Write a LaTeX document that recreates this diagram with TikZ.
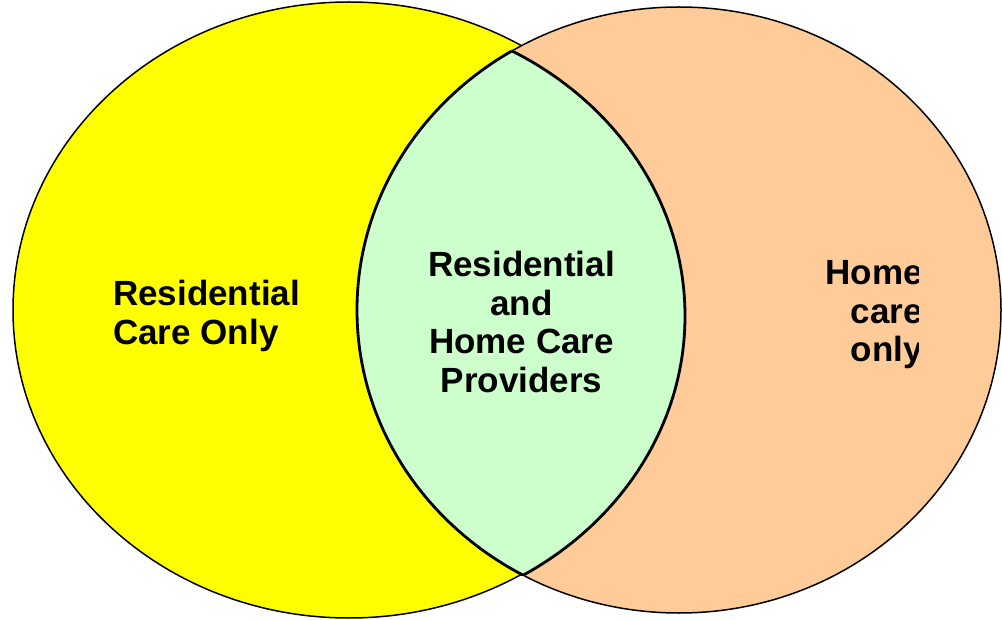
\documentclass[tikz,border=0pt]{standalone}
\usepackage{fontspec}
\setmainfont{Liberation Sans}
\definecolor{venyellow}{HTML}{FFFF00}
\definecolor{venorange}{HTML}{FFCC99}
\definecolor{vengreen}{HTML}{CCFFCC}
\tikzset{
  circ/.style={draw=black, line width=1.5pt},
  lbl/.style={font=\fontsize{35}{38.5}\selectfont\bfseries, inner sep=0pt, text=black}
}
\begin{document}
\begin{tikzpicture}[x=1pt,y=-1pt]
\useasboundingbox (0,0) rectangle (1002,620);
% left circle
\draw[circ, fill=venyellow] (349,310) ellipse [x radius=336, y radius=308];
% right circle
\draw[circ, fill=venorange] (679,310) ellipse [x radius=322, y radius=303];
% lens
\begin{scope}
  \clip (679,310) ellipse [x radius=322, y radius=303];
  \fill[vengreen] (349,316) ellipse [x radius=336, y radius=303];
  \draw[black, line width=2.8pt] (349,316) ellipse [x radius=336, y radius=303];
\end{scope}
\begin{scope}
  \clip (349,316) ellipse [x radius=336, y radius=303];
  \draw[black, line width=2.8pt] (679,310) ellipse [x radius=322, y radius=303];
\end{scope}
% labels
\node[lbl, anchor=west, align=left] (rc) at (113,316) {Residential\\Care Only};
\node[lbl, align=center] (both) at (521.5,322) {Residential\\and\\Home Care\\Providers};
\begin{scope}
  \clip (0,0) rectangle (918,620);
  \node[lbl, anchor=east, align=right] (hc) at (923,315) {Home\\care\\only};
\end{scope}
\end{tikzpicture}
\end{document}
